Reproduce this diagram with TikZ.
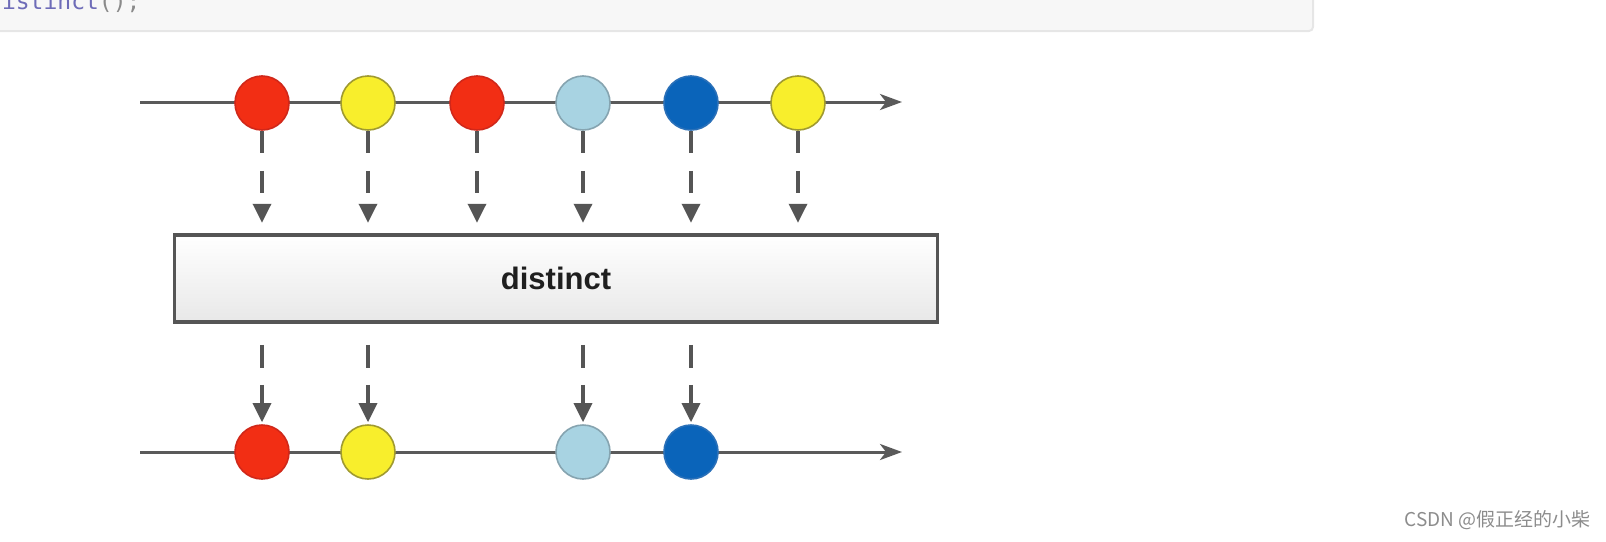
\documentclass[tikz,border=0pt]{standalone}
\usepackage{fontspec}
\setmainfont{Liberation Sans}
\newfontfamily\cjk{Noto Sans CJK SC}
\newfontfamily\codefont{DejaVu Sans Mono}
\usetikzlibrary{arrows.meta,shadows}

\definecolor{mred}{HTML}{F22E14}
\definecolor{mredb}{HTML}{D0281A}
\definecolor{myellow}{HTML}{F8EE2C}
\definecolor{myellowb}{HTML}{A09A30}
\definecolor{mlight}{HTML}{A8D3E2}
\definecolor{mlightb}{HTML}{86A4B0}
\definecolor{mdark}{HTML}{0A64BA}
\definecolor{mdarkb}{HTML}{2A70B8}
\definecolor{linegray}{HTML}{5A5A5A}
\definecolor{arrowgray}{HTML}{555555}
\definecolor{boxgray}{HTML}{555555}
\definecolor{codebg}{HTML}{F7F7F7}
\definecolor{codeedge}{HTML}{E6E6E6}
\definecolor{codeblue}{HTML}{6E6CB8}
\definecolor{codegray}{HTML}{8A8A8A}
\definecolor{wmgray}{HTML}{8C8C8C}

\tikzset{
  timeline/.style={draw=linegray, line width=3pt,
    -{Stealth[length=22pt,width=16pt,inset=6pt]}},
  marble/.style={circle, minimum size=54pt, inner sep=0pt, line width=1.6pt},
  flowin/.style={draw=arrowgray, line width=3.5pt, dash pattern=on 22pt off 18pt,
    -{Triangle[length=19pt,width=18pt]}},
  flowout/.style={draw=arrowgray, line width=3.5pt, dash pattern=on 23pt off 17pt,
    -{Triangle[length=19pt,width=18pt]}},
  opbox/.style={draw=boxgray, line width=3.5pt, minimum width=763pt,
    minimum height=87pt, inner sep=0pt, top color=white, bottom color=black!9,
    drop shadow={shadow xshift=1.5pt, shadow yshift=-1.5pt, opacity=0.25},
    font=\bfseries\fontsize{31}{31}\selectfont, text=black!88},
}

\begin{document}
\begin{tikzpicture}[x=1pt, y=-1pt]
  \clip (0,0) rectangle (1606,541);

  % code panel strip at the top
  \draw[fill=codebg, draw=codeedge, line width=2pt, rounded corners=4pt]
    (-10,-10) rectangle (1313,31);
  \node[anchor=base west, inner sep=0pt,
        font=\codefont\fontsize{23}{23}\selectfont] (code) at (-12,9)
    {\textcolor{codeblue}{distinct}\textcolor{codegray}{();}};

  % source stream
  \coordinate (srcstart) at (140,102);
  \coordinate (srcend) at (902,102);
  \draw[timeline] (srcstart) -- (srcend);
  \node[marble, fill=mred,    draw=mredb]    (t1) at (262,103) {};
  \node[marble, fill=myellow, draw=myellowb] (t2) at (368,103) {};
  \node[marble, fill=mred,    draw=mredb]    (t3) at (477,103) {};
  \node[marble, fill=mlight,  draw=mlightb]  (t4) at (583,103) {};
  \node[marble, fill=mdark,   draw=mdarkb]   (t5) at (691,103) {};
  \node[marble, fill=myellow, draw=myellowb] (t6) at (798,103) {};

  % operator box
  \node[opbox] (op) at (556,278.5) {distinct};

  % result stream
  \coordinate (outstart) at (140,452);
  \coordinate (outend) at (902,452);
  \draw[timeline] (outstart) -- (outend);
  \node[marble, fill=mred,    draw=mredb]    (b1) at (262,452) {};
  \node[marble, fill=myellow, draw=myellowb] (b2) at (368,452) {};
  \node[marble, fill=mlight,  draw=mlightb]  (b4) at (583,452) {};
  \node[marble, fill=mdark,   draw=mdarkb]   (b5) at (691,452) {};

  % emissions into the operator
  \foreach \m in {t1,t2,t3,t4,t5,t6}
    \draw[flowin] (\m.south) -- ([yshift=10.5pt]op.north -| \m);

  % emissions out of the operator
  \foreach \m in {b1,b2,b4,b5}
    \draw[flowout] ([yshift=-21pt]op.south -| \m) -- ([yshift=2pt]\m.north);

  % watermark
  \node[anchor=east, inner sep=0pt, text=wmgray,
        font=\cjk\fontsize{19}{19}\selectfont] (wm) at (1591,520)
    {CSDN @假正经的小柴};
\end{tikzpicture}
\end{document}
